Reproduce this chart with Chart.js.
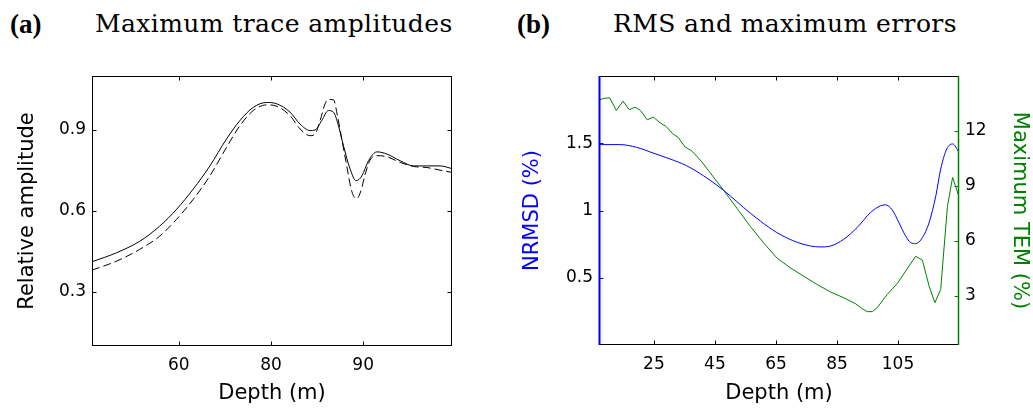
<!DOCTYPE html>
<html>
<head>
<meta charset="utf-8">
<script src="https://cdn.jsdelivr.net/npm/chart.js@4.4.1/dist/chart.umd.min.js"></script>
<style>
  body { margin: 0; background: #fff; overflow: hidden; }
  #wrap { position: relative; width: 1033px; height: 409px; background: #fff; }
  canvas { position: absolute; top: 0; }
  .tag, .ttl { position: absolute; top: 9px; line-height: 32px; white-space: nowrap; color: #000; }
  .tag { font: bold 27px "Liberation Serif", serif; }
  .ttl { font: 25px "DejaVu Serif", serif; letter-spacing: 0.4px; }
</style>
</head>
<body>
<div id="wrap">
  <div class="tag" style="left:10px">(a)</div>
  <div class="ttl" style="left:95px">Maximum trace amplitudes</div>
  <div class="tag" style="left:517px">(b)</div>
  <div class="ttl" style="left:613px">RMS and maximum errors</div>
  <canvas id="ampChart" width="490" height="409" style="left:0"></canvas>
  <canvas id="errChart" width="533" height="409" style="left:500px"></canvas>
</div>
<script>
// ---------- (a) maximum trace amplitudes ----------
// x is the position along the depth axis, ticks sit at 1, 2, 3
const ampTickPos = [1, 2, 3];
const ampTickLabels = ['60', '80', '90'];
const ampYTicks = [0.3, 0.6, 0.9];

const solidX = [0.058, 0.322, 0.576, 0.793, 0.975, 1.156, 1.337, 1.518, 1.663, 1.808, 1.953, 2.062,
  2.207, 2.315, 2.424, 2.478, 2.551, 2.623, 2.678, 2.732, 2.786, 2.859, 2.924, 2.986, 3.058, 3.149,
  3.257, 3.402, 3.547, 3.692, 3.837, 3.964];
const solidY = [0.412, 0.445, 0.488, 0.544, 0.606, 0.681, 0.767, 0.867, 0.935, 0.984, 1.002, 0.997,
  0.966, 0.922, 0.898, 0.900, 0.935, 0.972, 0.966, 0.916, 0.842, 0.755, 0.712, 0.730, 0.786, 0.819,
  0.811, 0.786, 0.767, 0.767, 0.767, 0.757];

const dashX = [0.058, 0.322, 0.576, 0.793, 0.975, 1.156, 1.337, 1.518, 1.663, 1.808, 1.953, 2.062,
  2.207, 2.315, 2.424, 2.478, 2.533, 2.587, 2.623, 2.678, 2.721, 2.768, 2.822, 2.866, 2.895, 2.931,
  2.975, 3.022, 3.076, 3.149, 3.257, 3.402, 3.547, 3.692, 3.837, 3.964];
const dashY = [0.381, 0.414, 0.458, 0.507, 0.569, 0.643, 0.730, 0.836, 0.916, 0.972, 0.993, 0.988,
  0.953, 0.904, 0.879, 0.885, 0.935, 0.997, 1.013, 1.012, 0.953, 0.866, 0.767, 0.687, 0.656, 0.646,
  0.674, 0.736, 0.789, 0.805, 0.801, 0.780, 0.765, 0.761, 0.751, 0.743];

// ---------- (b) RMS and maximum errors ----------
const depthTicks = [25, 45, 65, 85, 105];
const nrmsdTicks = [0.5, 1, 1.5];
const temTicks = [3, 6, 9, 12];

const nrmsdDepth = [7, 13.8, 19.3, 25, 30.3, 35.7, 41.2, 45.6, 50, 54.4, 59.8, 65.3, 70.8, 76.3, 79.6,
  82.9, 87.2, 91.6, 96, 99.3, 100.9, 103.1, 105.3, 107.5, 109.2, 110.8, 113, 115.2, 117.4, 119, 121,
  122.9, 125];
const nrmsd = [1.49, 1.49, 1.47, 1.425, 1.383, 1.333, 1.259, 1.189, 1.109, 1.022, 0.923, 0.836, 0.774,
  0.736, 0.729, 0.736, 0.786, 0.873, 0.985, 1.035, 1.042, 1.005, 0.910, 0.811, 0.761, 0.754, 0.798,
  0.910, 1.109, 1.308, 1.458, 1.495, 1.433];

const temDepth = [7, 8.9, 10.5, 12.7, 14.9, 16.9, 18.8, 20.6, 22.8, 24.8, 27, 29, 31.1, 33, 35.2, 37.4,
  40.7, 44, 47.8, 52.2, 56.6, 61, 65.3, 69.7, 74.1, 78.5, 82.9, 87.2, 91.1, 93.3, 94.9, 96.6, 98.2,
  101.5, 104.8, 107.5, 110.8, 113, 115.2, 117.1, 119, 121.2, 122.9, 125];
const tem = [13.70, 13.79, 13.81, 13.12, 13.63, 13.16, 13.30, 13.12, 12.61, 12.76, 12.45, 12.25, 11.86,
  11.64, 11.13, 10.92, 10.32, 9.60, 8.78, 7.79, 6.80, 5.89, 5.08, 4.54, 4.08, 3.63, 3.22, 2.91, 2.58,
  2.31, 2.15, 2.15, 2.37, 3.09, 3.69, 4.36, 5.17, 4.96, 3.54, 2.64, 3.36, 7.88, 9.47, 8.42];

const BLUE = '#0000ff';
const GREEN = '#008000';
const sans = 'DejaVu Sans';

function pts(xs, ys) {
  return xs.map((x, i) => ({ x: x, y: ys[i] }));
}

// matlab style box with ticks pointing inwards
const frameBox = {
  id: 'frameBox',
  afterDatasetsDraw(chart, args, o) {
    const { ctx, chartArea: a } = chart;
    const L = 4;
    const l = Math.round(a.left) + 0.5, r = Math.round(a.right) - 0.5;
    const t = Math.round(a.top) + 0.5, b = Math.round(a.bottom) - 0.5;
    const seg = (x1, y1, x2, y2, c, w) => {
      ctx.strokeStyle = c; ctx.lineWidth = w || 1;
      ctx.beginPath(); ctx.moveTo(x1, y1); ctx.lineTo(x2, y2); ctx.stroke();
    };
    ctx.save();
    const xs = chart.scales.x;
    xs.ticks.forEach(tk => {
      const p = Math.round(xs.getPixelForValue(tk.value)) + 0.5;
      seg(p, b, p, b - L, '#000');
      seg(p, t, p, t + L, '#000');
    });
    const ls = chart.scales[o.leftScale], rs = chart.scales[o.rightScale];
    ls.ticks.forEach(tk => {
      const p = Math.round(ls.getPixelForValue(tk.value)) + 0.5;
      seg(l, p, l + L, p, o.leftColor);
    });
    rs.ticks.forEach(tk => {
      const p = Math.round(rs.getPixelForValue(tk.value)) + 0.5;
      seg(r, p, r - L, p, o.rightColor);
    });
    seg(l, t, r, t, '#000');
    seg(l, b, r, b, '#000');
    seg(l, t - 0.5, l, b + 0.5, o.leftColor, o.leftWidth);
    seg(r, t - 0.5, r, b + 0.5, o.rightColor, o.rightWidth);
    ctx.restore();
  }
};

function fixTicks(list) {
  return s => { s.ticks = list.map(v => ({ value: v })); };
}

const baseScale = {
  grid: { display: false, drawTicks: false },
  border: { display: false },
  ticks: { color: '#000', font: { family: sans, size: 17 } }
};

// ---------- chart (a) ----------
new Chart(document.getElementById('ampChart'), {
  type: 'line',
  data: {
    datasets: [{
      data: pts(solidX, solidY),
      borderColor: '#000', borderWidth: 1,
      cubicInterpolationMode: 'monotone'
    }, {
      data: pts(dashX, dashY),
      borderColor: '#000', borderWidth: 1, borderDash: [8, 4],
      cubicInterpolationMode: 'monotone'
    }]
  },
  options: {
    responsive: false, animation: false, devicePixelRatio: 1,
    layout: { padding: { left: 0, right: 38, top: 76, bottom: 0 } },
    elements: { point: { radius: 0 } },
    plugins: {
      legend: { display: false }, tooltip: { enabled: false },
      frameBox: { leftScale: 'y', rightScale: 'y', leftColor: '#000', rightColor: '#000' }
    },
    scales: {
      x: {
        ...baseScale, type: 'linear', min: 0.058, max: 3.964,
        afterBuildTicks: fixTicks(ampTickPos),
        afterFit: s => { s.height = 63; },
        ticks: { ...baseScale.ticks, padding: 9, callback: v => ampTickLabels[ampTickPos.indexOf(v)] },
        title: { display: true, text: 'Depth (m)', color: '#000', font: { family: sans, size: 21 }, padding: { top: 0, bottom: 3 } }
      },
      y: {
        ...baseScale, min: 0.1, max: 1.1,
        afterBuildTicks: fixTicks(ampYTicks),
        afterFit: s => { s.width = 92; },
        ticks: { ...baseScale.ticks, padding: 6, callback: v => String(v) },
        title: { display: true, text: 'Relative amplitude', color: '#000', font: { family: sans, size: 21 }, padding: { top: 15, bottom: 0 } }
      }
    }
  },
  plugins: [frameBox]
});

// ---------- chart (b) ----------
new Chart(document.getElementById('errChart'), {
  type: 'line',
  data: {
    datasets: [{
      data: pts(nrmsdDepth, nrmsd), yAxisID: 'y',
      borderColor: BLUE, borderWidth: 1,
      cubicInterpolationMode: 'monotone'
    }, {
      data: pts(temDepth, tem), yAxisID: 'y2',
      borderColor: GREEN, borderWidth: 1, tension: 0
    }]
  },
  options: {
    responsive: false, animation: false, devicePixelRatio: 1,
    layout: { padding: { left: 0, right: 0, top: 76, bottom: 0 } },
    elements: { point: { radius: 0 } },
    plugins: {
      legend: { display: false }, tooltip: { enabled: false },
      frameBox: { leftScale: 'y', rightScale: 'y2', leftColor: BLUE, rightColor: GREEN, leftWidth: 2, rightWidth: 1.5 }
    },
    scales: {
      x: {
        ...baseScale, type: 'linear', min: 7, max: 125,
        afterBuildTicks: fixTicks(depthTicks),
        afterFit: s => { s.height = 64; },
        ticks: { ...baseScale.ticks, padding: 9, callback: v => String(v) },
        title: { display: true, text: 'Depth (m)', color: '#000', font: { family: sans, size: 21 }, padding: { top: 0, bottom: 3 } }
      },
      y: {
        ...baseScale, position: 'left', min: 0, max: 2,
        afterBuildTicks: fixTicks(nrmsdTicks),
        afterFit: s => { s.width = 99; },
        ticks: { ...baseScale.ticks, padding: 6, callback: v => String(v) },
        title: { display: true, text: 'NRMSD (%)', color: BLUE, font: { family: sans, size: 21 }, padding: { top: 20, bottom: 0 } }
      },
      y2: {
        ...baseScale, position: 'right', min: 0.33, max: 15,
        afterBuildTicks: fixTicks(temTicks),
        afterFit: s => { s.width = 74; },
        ticks: { ...baseScale.ticks, padding: 6, callback: v => String(v) },
        title: { display: true, text: 'Maximum TEM (%)', color: GREEN, font: { family: sans, size: 21 }, padding: { top: 1, bottom: 0 } }
      }
    }
  },
  plugins: [frameBox]
});
</script>
</body>
</html>
